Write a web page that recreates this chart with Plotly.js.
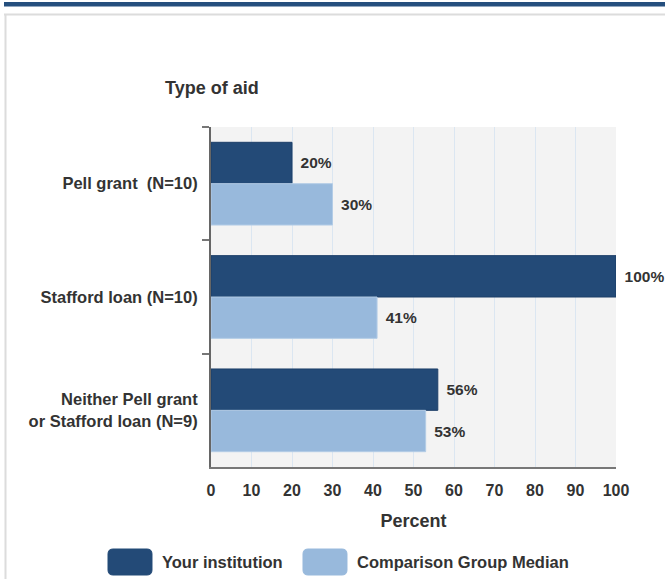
<!DOCTYPE html>
<html>
<head>
<meta charset="utf-8">
<script src="https://cdn.plot.ly/plotly-3.0.1.min.js"></script>
<style>
html,body{margin:0;padding:0;background:#fff;}
#chart{width:665px;height:579px;}
</style>
</head>
<body>
<div id="chart"></div>
<script>
const categories = ["Pell grant  (N=10)", "Stafford loan (N=10)", "Neither Pell grant<br>or Stafford loan (N=9)"];
const yourInstitution = [20, 100, 56];
const comparisonMedian = [30, 41, 53];
const seriesNames = ["Your institution", "Comparison Group Median"];
const xTicks = [0, 10, 20, 30, 40, 50, 60, 70, 80, 90, 100];

const DARK = "#234a77";
const LIGHT = "#98b9dc";
const TXT = "#333333";
const FONT = "'Liberation Sans', Arial, Helvetica, sans-serif";

const L = 211, R = 616, T = 127, B = 467;
const px = x => (x - L) / (R - L);
const py = y => (B - y) / (B - T);

function roundRect(x0, y0, x1, y1, r) {
  const X = v => px(v).toFixed(5), Y = v => py(v).toFixed(5);
  return "M" + X(x0 + r) + "," + Y(y0) +
    " L" + X(x1 - r) + "," + Y(y0) +
    " Q" + X(x1) + "," + Y(y0) + " " + X(x1) + "," + Y(y0 + r) +
    " L" + X(x1) + "," + Y(y1 - r) +
    " Q" + X(x1) + "," + Y(y1) + " " + X(x1 - r) + "," + Y(y1) +
    " L" + X(x0 + r) + "," + Y(y1) +
    " Q" + X(x0) + "," + Y(y1) + " " + X(x0) + "," + Y(y1 - r) +
    " L" + X(x0) + "," + Y(y0 + r) +
    " Q" + X(x0) + "," + Y(y0) + " " + X(x0 + r) + "," + Y(y0) + " Z";
}

const traceBase = {
  type: "bar",
  orientation: "h",
  y: categories,
  texttemplate: "\u00a0\u200a%{x}%",
  textposition: "outside",
  constraintext: "none",
  cliponaxis: false,
  textfont: {family: FONT, size: 15.5, color: TXT, weight: "bold"},
  hoverinfo: "skip",
  showlegend: false
};

const data = [
  Object.assign({}, traceBase, {name: seriesNames[0], x: yourInstitution, marker: {color: DARK, line: {color: "#1d3f68", width: 1}}}),
  Object.assign({}, traceBase, {name: seriesNames[1], x: comparisonMedian, marker: {color: LIGHT, line: {color: "#b3cce6", width: 1}}})
];

const layout = {
  width: 665, height: 579,
  margin: {l: L, r: 665 - R, t: T, b: 579 - B, pad: 0},
  paper_bgcolor: "#ffffff",
  plot_bgcolor: "#f3f3f3",
  barmode: "group",
  bargap: 0.27,
  bargroupgap: 0,
  font: {family: FONT, color: TXT},
  xaxis: {
    range: [0, 100],
    tickvals: xTicks,
    ticktext: xTicks.map(String),
    showgrid: true, gridcolor: "#dbe6f1", gridwidth: 1,
    zeroline: false,
    showline: true, linecolor: "#777777", linewidth: 2,
    ticks: "", ticklabelstandoff: 8,
    tickfont: {family: FONT, size: 16, color: TXT, weight: "bold"},
    title: {text: "Percent", font: {family: FONT, size: 18, color: TXT, weight: "bold"}, standoff: 16},
    fixedrange: true
  },
  yaxis: {
    type: "category",
    range: [2.5, -0.5],
    tickson: "boundaries",
    ticks: "outside", ticklen: 7, tickwidth: 2, tickcolor: "#777777",
    showgrid: false,
    showline: true, linecolor: "#666666", linewidth: 2,
    zeroline: false,
    ticklabelstandoff: 8,
    tickfont: {family: FONT, size: 16.5, color: TXT, weight: "bold"},
    fixedrange: true
  },
  shapes: [
    {type: "rect", xref: "paper", yref: "paper", x0: px(4), x1: px(665), y0: py(2), y1: py(6.5), fillcolor: "#254f7e", line: {width: 0}},
    {type: "line", xref: "paper", yref: "paper", x0: px(4), x1: px(665), y0: py(14.5), y1: py(14.5), line: {color: "#dcdcdc", width: 2}},
    {type: "line", xref: "paper", yref: "paper", x0: px(5.5), x1: px(5.5), y0: py(14), y1: py(579), line: {color: "#dcdcdc", width: 2}},
    {type: "path", xref: "paper", yref: "paper", path: roundRect(108, 549, 152, 575, 5), fillcolor: DARK, line: {color: DARK, width: 1}},
    {type: "path", xref: "paper", yref: "paper", path: roundRect(303, 549, 347, 575, 5), fillcolor: LIGHT, line: {color: LIGHT, width: 1}}
  ],
  annotations: [
    {xref: "paper", yref: "paper", x: px(163), y: py(88), xanchor: "left", yanchor: "middle", showarrow: false,
     text: "Type of aid", font: {family: FONT, size: 18, color: TXT, weight: "bold"}},
    {xref: "paper", yref: "paper", x: px(160), y: py(562), xanchor: "left", yanchor: "middle", showarrow: false,
     text: seriesNames[0], font: {family: FONT, size: 16.5, color: TXT, weight: "bold"}},
    {xref: "paper", yref: "paper", x: px(355), y: py(562), xanchor: "left", yanchor: "middle", showarrow: false,
     text: seriesNames[1], font: {family: FONT, size: 16.5, color: TXT, weight: "bold"}}
  ]
};

Plotly.newPlot("chart", data, layout, {displayModeBar: false, staticPlot: true});
</script>
</body>
</html>
